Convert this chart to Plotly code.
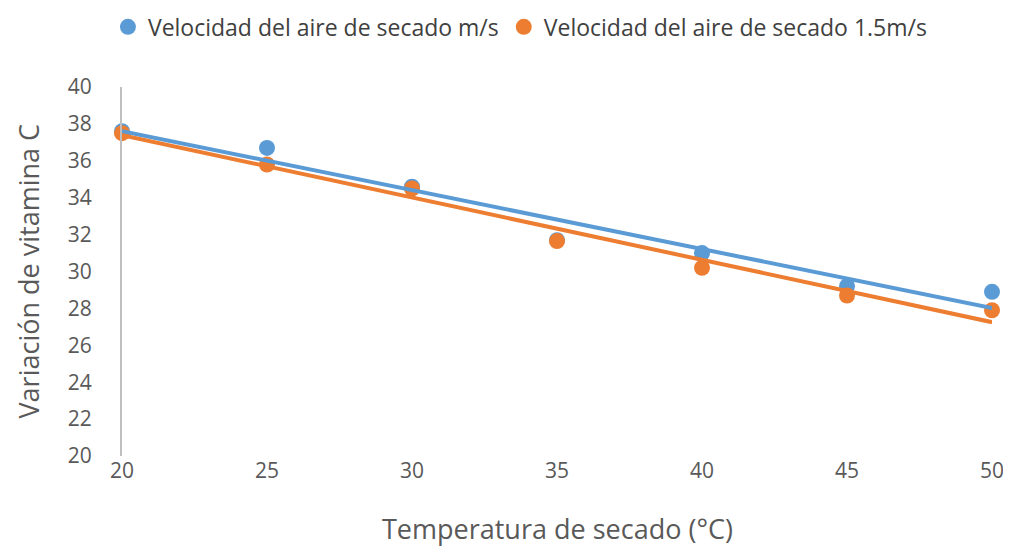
import numpy as np
import plotly.graph_objects as go

temperatura = [20, 25, 30, 35, 40, 45, 50]
vel_aire = [37.6, 36.7, 34.6, 31.7, 31.0, 29.2, 28.9]
vel_aire_15 = [37.5, 35.8, 34.5, 31.65, 30.2, 28.7, 27.9]

BLUE = "#5b9bd5"
ORANGE = "#ed7d31"
FONT = "Open Sans"


def trend(x, y):
    # linear trendline, like the spreadsheet's
    m, b = np.polyfit(x, y, 1)
    xs = np.array([min(x), max(x)])
    return xs, m * xs + b


fig = go.Figure()
for name, ys, color in [
    ("Velocidad del aire de secado m/s", vel_aire, BLUE),
    ("Velocidad del aire de secado 1.5m/s", vel_aire_15, ORANGE),
]:
    fig.add_trace(go.Scatter(x=temperatura, y=ys, mode="markers", name=name,
                             marker=dict(color=color, size=16), cliponaxis=False))
for ys, color in [(vel_aire, BLUE), (vel_aire_15, ORANGE)]:
    tx, ty = trend(temperatura, ys)
    fig.add_trace(go.Scatter(x=tx, y=ty, mode="lines", showlegend=False,
                             line=dict(color=color, width=4), cliponaxis=False))

# page body has an 8px margin, so the figure is a bit smaller than the window
fig.update_layout(
    width=995, height=540,
    paper_bgcolor="white", plot_bgcolor="white",
    margin=dict(l=114, r=11, t=79, b=92, autoexpand=False),
    font=dict(family=FONT, color="#595959"),
    legend=dict(orientation="h", x=0.515, xref="container", xanchor="center",
                y=0.965, yref="container", yanchor="middle",
                font=dict(size=23, color="#404040"), itemwidth=30, tracegroupgap=0),
    showlegend=True,
)
fig.update_xaxes(range=[20, 50], tickvals=temperatura, showgrid=False, zeroline=False,
                 showline=False, ticks="", tickfont=dict(size=21), automargin=False,
                 ticklabelstandoff=0, ticklabeloverflow="allow")
fig.update_yaxes(range=[20, 40], dtick=2, showgrid=False, zeroline=False,
                 showline=True, linecolor="#bfbfbf", linewidth=2, ticks="",
                 tickfont=dict(size=21), automargin=False, ticklabelstandoff=24)

# axis titles placed by hand so they sit where the reference has them
fig.add_annotation(text="Temperatura de secado (°C)", xref="paper", yref="paper",
                   x=0.5, y=0, yanchor="middle", yshift=-72, showarrow=False,
                   font=dict(size=27))
fig.add_annotation(text="Variación de vitamina C", xref="paper", yref="paper",
                   x=0, y=0.5, xanchor="center", xshift=-94, textangle=-90,
                   showarrow=False, font=dict(size=27))

fig.write_html("out.html")
